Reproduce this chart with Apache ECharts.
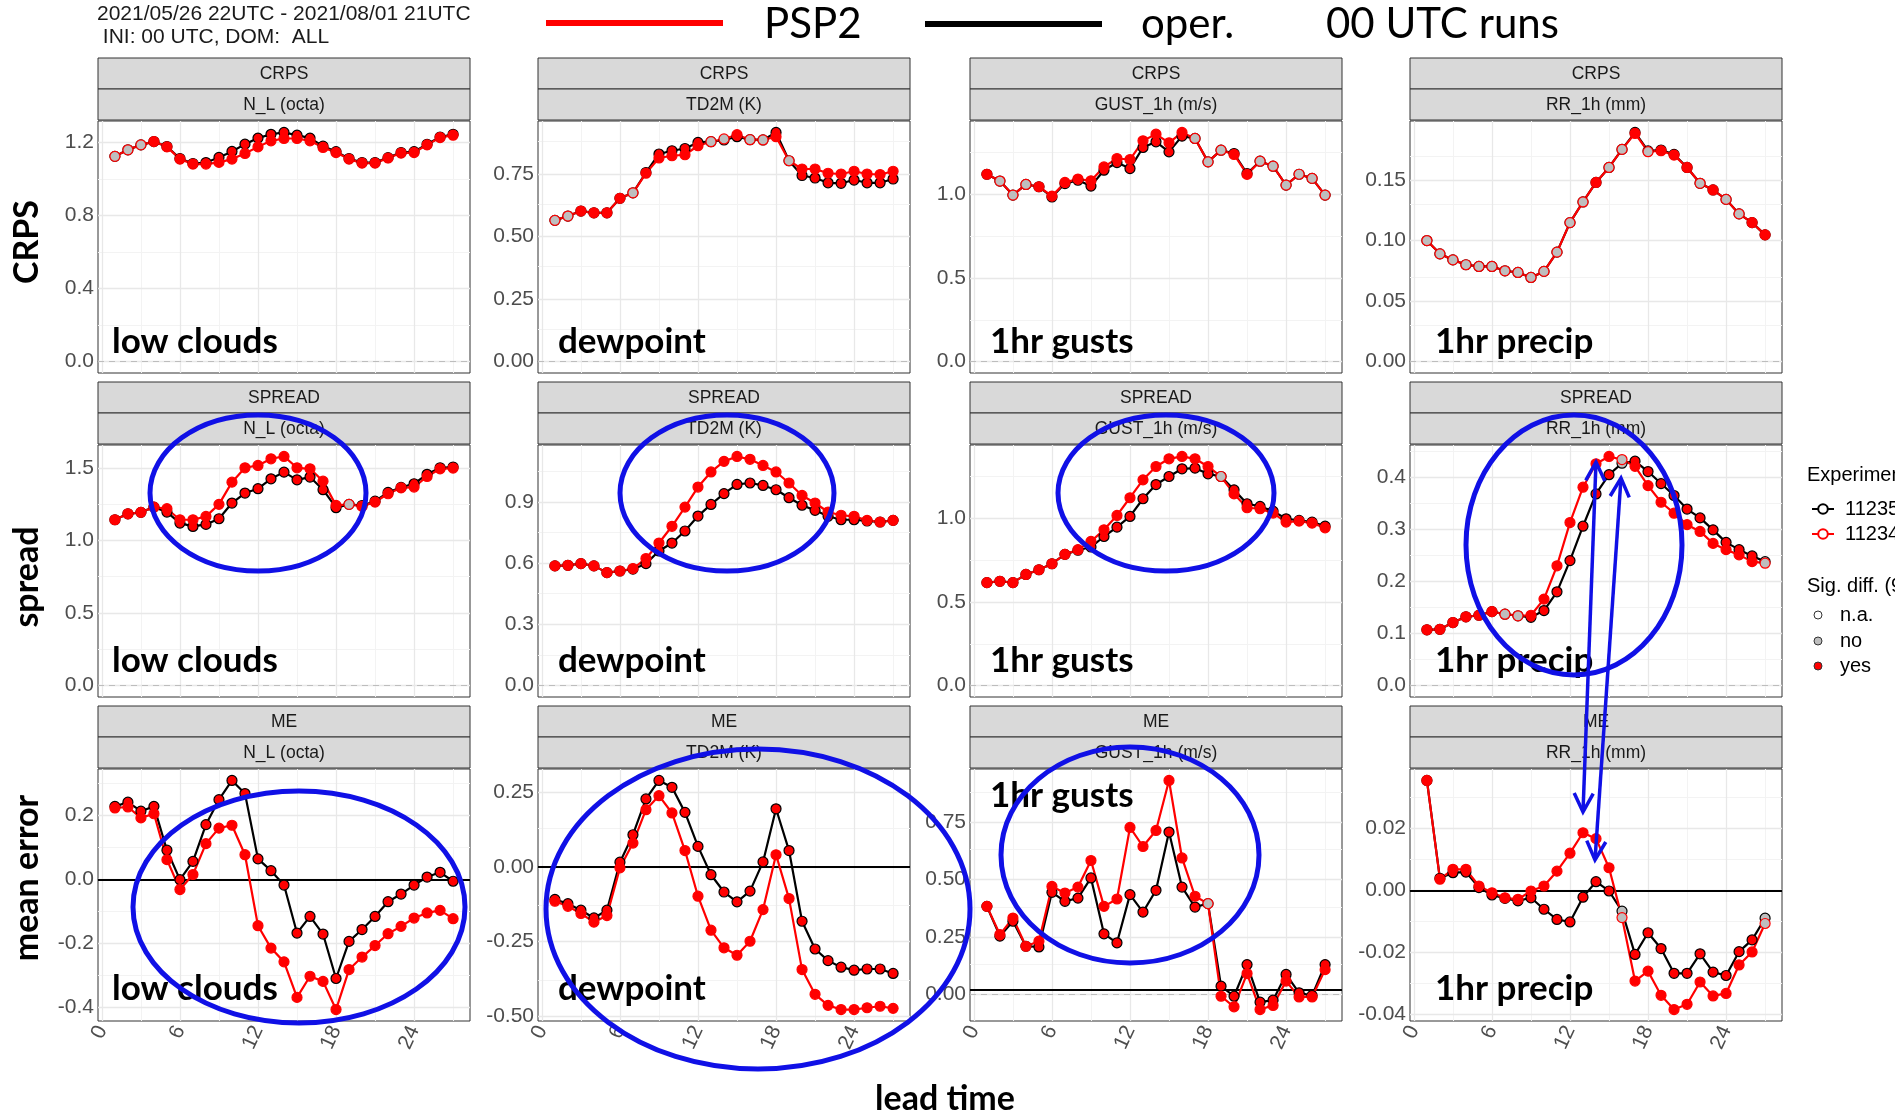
<!DOCTYPE html>
<html><head><meta charset="utf-8">
<script src="https://cdn.jsdelivr.net/npm/echarts@6/dist/echarts.min.js"></script>
<style>html,body{margin:0;padding:0;background:#fff}#c{width:1895px;height:1115px}</style>
</head><body><div id="c"></div>
<script>
// ---------------- DATA ----------------
const leadTimes = [1,2,3,4,5,6,7,8,9,10,11,12,13,14,15,16,17,18,19,20,21,22,23,24,25,26,27];
const xTicks = [0,6,12,18,24];
const xMinorTicks = [3,9,15,21,27];
const statNames = ['CRPS','SPREAD','ME'];
const paramNames = ['N_L (octa)','TD2M (K)','GUST_1h (m/s)','RR_1h (mm)'];
const paramLabels = ['low clouds','dewpoint','1hr gusts','1hr precip'];
const rowTitles = ['CRPS','spread','mean error'];
const experiments = ['11235','11234'];
const sigLevels = ['n.a.','no','yes'];

// CRPS
const crpsNL_11235 = [1.124,1.16,1.187,1.205,1.178,1.112,1.085,1.09,1.118,1.151,1.191,1.224,1.245,1.255,1.24,1.224,1.18,1.15,1.112,1.09,1.09,1.117,1.145,1.15,1.19,1.23,1.245];
const crpsNL_11234 = [1.124,1.16,1.187,1.205,1.176,1.109,1.082,1.082,1.091,1.109,1.14,1.176,1.209,1.222,1.222,1.209,1.173,1.145,1.109,1.087,1.087,1.115,1.142,1.145,1.187,1.227,1.24];
const crpsNL_sig = 'NNNYYYYYYYYYYYYYYYYYYYYYYYY';
const crpsTD_11235 = [0.564,0.581,0.601,0.594,0.594,0.652,0.674,0.755,0.829,0.842,0.851,0.875,0.878,0.885,0.898,0.886,0.885,0.915,0.802,0.743,0.733,0.714,0.712,0.725,0.714,0.714,0.729];
const crpsTD_11234 = [0.564,0.581,0.601,0.594,0.594,0.652,0.674,0.752,0.813,0.822,0.826,0.862,0.878,0.889,0.906,0.886,0.885,0.898,0.802,0.769,0.769,0.752,0.749,0.760,0.749,0.747,0.760];
const crpsTD_sig = 'NNYYYYNYYYYYNNYNNYNYYYYYYYY';
const crpsGU_11235 = [1.121,1.080,0.996,1.060,1.046,0.985,1.065,1.085,1.05,1.145,1.191,1.155,1.281,1.315,1.255,1.349,1.335,1.195,1.265,1.245,1.125,1.199,1.169,1.056,1.121,1.096,0.996];
const crpsGU_11234 = [1.121,1.080,0.996,1.060,1.046,0.990,1.072,1.092,1.082,1.165,1.215,1.209,1.321,1.361,1.309,1.371,1.335,1.195,1.265,1.239,1.12,1.199,1.169,1.056,1.121,1.096,0.996];
const crpsGU_sig = 'YNNNYYYYYYYYYYYYNNNYYNNNNNN';
const crpsRR_11235 = [0.100,0.089,0.084,0.080,0.0786,0.0786,0.075,0.0736,0.0695,0.0745,0.0904,0.1148,0.1319,0.148,0.1604,0.1753,0.1893,0.174,0.1748,0.1712,0.1604,0.1473,0.1418,0.134,0.122,0.1148,0.1047];
const crpsRR_11234 = [0.100,0.089,0.084,0.080,0.0786,0.0786,0.075,0.0736,0.0695,0.0745,0.0904,0.1148,0.1319,0.148,0.1604,0.1753,0.1885,0.1734,0.1742,0.1706,0.1604,0.1473,0.1418,0.134,0.122,0.1148,0.1047];
const crpsRR_sig = 'NNNNNNNNNNNNNYNNYNYYYNYNNYY';
// SPREAD
const sprNL_11235 = [1.142,1.183,1.193,1.229,1.195,1.119,1.096,1.11,1.149,1.257,1.326,1.356,1.424,1.47,1.417,1.436,1.349,1.225,1.248,1.24,1.27,1.33,1.365,1.39,1.455,1.5,1.505];
const sprNL_11234 = [1.142,1.183,1.193,1.229,1.218,1.142,1.142,1.165,1.248,1.401,1.50,1.516,1.562,1.578,1.50,1.493,1.408,1.241,1.248,1.234,1.264,1.321,1.362,1.367,1.44,1.493,1.498];
const sprNL_sig = 'YYYYYYYYYYYYYYYYYYNYYYYYYYY';
const sprTD_11235 = [0.586,0.589,0.597,0.586,0.553,0.561,0.570,0.597,0.659,0.698,0.757,0.83,0.887,0.94,0.985,0.992,0.98,0.959,0.92,0.883,0.858,0.829,0.812,0.812,0.806,0.801,0.809];
const sprTD_11234 = [0.586,0.589,0.597,0.586,0.553,0.561,0.573,0.622,0.698,0.78,0.874,0.972,1.046,1.098,1.122,1.108,1.078,1.046,0.992,0.931,0.894,0.85,0.834,0.829,0.809,0.801,0.809];
const sprTD_sig = 'YYYYYYYYYYYYYYYYYYYYYYYYYYY';
const sprGU_11235 = [0.616,0.624,0.616,0.665,0.693,0.729,0.785,0.810,0.829,0.892,0.948,1.012,1.118,1.203,1.251,1.297,1.301,1.267,1.251,1.171,1.088,1.072,1.044,0.998,0.988,0.978,0.954];
const sprGU_11234 = [0.616,0.624,0.616,0.665,0.693,0.729,0.785,0.813,0.863,0.932,1.018,1.124,1.231,1.311,1.357,1.371,1.357,1.311,1.251,1.147,1.064,1.058,1.032,0.978,0.984,0.972,0.944];
const sprGU_sig = 'YYYYYYYYYYYYYYYYYYNYYYYYYYY';
const sprRR_11235 = [0.107,0.108,0.121,0.132,0.135,0.142,0.137,0.134,0.131,0.144,0.180,0.24,0.306,0.368,0.405,0.427,0.431,0.411,0.388,0.365,0.339,0.322,0.299,0.275,0.261,0.249,0.238];
const sprRR_11234 = [0.107,0.108,0.121,0.132,0.135,0.142,0.137,0.134,0.135,0.166,0.23,0.313,0.381,0.426,0.44,0.434,0.421,0.384,0.352,0.331,0.309,0.296,0.273,0.261,0.251,0.238,0.235];
const sprRR_sig = 'YYYYYYNNYYYYYYYNYYYYYYYYYYN';
// ME
const meNL_11235 = [0.229,0.242,0.214,0.229,0.092,0.0,0.057,0.172,0.25,0.31,0.269,0.065,0.028,-0.017,-0.167,-0.115,-0.17,-0.309,-0.193,-0.156,-0.115,-0.069,-0.045,-0.017,0.008,0.023,-0.005];
const meNL_11234 = [0.224,0.227,0.193,0.206,0.0625,-0.031,0.016,0.1125,0.161,0.17,0.078,-0.144,-0.214,-0.257,-0.368,-0.302,-0.318,-0.406,-0.281,-0.242,-0.206,-0.169,-0.146,-0.12,-0.104,-0.096,-0.122];
const meNL_sig = 'YYYYYYYYYYYYYYYYYYYYYYYYYYY';
const meTD_11235 = [-0.109,-0.123,-0.145,-0.171,-0.145,0.016,0.108,0.228,0.29,0.267,0.183,0.069,-0.026,-0.084,-0.117,-0.081,0.017,0.195,0.055,-0.182,-0.275,-0.314,-0.336,-0.346,-0.342,-0.342,-0.357];
const meTD_11234 = [-0.115,-0.132,-0.156,-0.185,-0.163,-0.003,0.080,0.192,0.239,0.181,0.055,-0.098,-0.212,-0.271,-0.296,-0.249,-0.143,0.041,-0.106,-0.344,-0.427,-0.464,-0.478,-0.478,-0.472,-0.467,-0.474];
const meTD_sig = 'YYYYYYYYYYYYYYYYYYYYYYYYYYY';
const meGU_11235 = [0.383,0.253,0.318,0.209,0.206,0.444,0.405,0.419,0.507,0.263,0.224,0.434,0.358,0.453,0.707,0.467,0.380,0.395,0.035,-0.009,0.129,-0.035,-0.026,0.086,0.006,-0.006,0.129];
const meGU_11234 = [0.383,0.26,0.332,0.209,0.231,0.470,0.441,0.467,0.583,0.383,0.415,0.727,0.644,0.714,0.932,0.594,0.427,0.395,-0.009,-0.055,0.09,-0.067,-0.049,0.057,-0.012,-0.012,0.107];
const meGU_sig = 'YYYYYYYYYYYYYYYYYNYYYYYYYYY';
const meRR_11235 = [0.0355,0.0039,0.0057,0.0059,0.0009,-0.0015,-0.0026,-0.0034,-0.0024,-0.0061,-0.0094,-0.0102,-0.0022,0.0028,-0.0002,-0.0067,-0.0207,-0.0137,-0.0188,-0.0268,-0.0268,-0.0205,-0.0264,-0.0275,-0.0198,-0.016,-0.009];
const meRR_11234 = [0.0355,0.0036,0.0068,0.0068,0.0014,-0.0008,-0.0024,-0.0029,-0.0002,0.0014,0.0062,0.012,0.0186,0.0167,0.0073,-0.0088,-0.0293,-0.0261,-0.0339,-0.0385,-0.0368,-0.0296,-0.0341,-0.0333,-0.0241,-0.0199,-0.0107];
const meRR_sig = 'YYYYYYYYYYYYYYYNYYYYYYYYYYN';

// y tick labels per panel
const yTicksCRPS = [[0,0.4,0.8,1.2],[0,0.25,0.5,0.75],[0,0.5,1.0],[0,0.05,0.10,0.15]];
const yTicksSPREAD = [[0,0.5,1.0,1.5],[0,0.3,0.6,0.9],[0,0.5,1.0],[0,0.1,0.2,0.3,0.4]];
const yTicksME = [[-0.4,-0.2,0,0.2],[-0.5,-0.25,0,0.25],[0,0.25,0.5,0.75],[-0.04,-0.02,0,0.02]];
// hand-drawn reference line in the ME panels
const meRefLine = [0, 0, 0.016, -0.0005];

// ---------------- LAYOUT / STYLE ----------------
const colLeft = [98, 538, 970, 1410];
const colW = 372;
const rowTop = [58, 382, 706];
const stripH = 31;
const plotH = 252;
const C_OPER = '#000000', C_PSP = '#FF0000';
const FILL_YES = '#FF0000', FILL_NO = '#BEBEBE';
const BLUE = '#1010E6';

const panelData = [
  [[crpsNL_11235,crpsNL_11234,crpsNL_sig],[crpsTD_11235,crpsTD_11234,crpsTD_sig],[crpsGU_11235,crpsGU_11234,crpsGU_sig],[crpsRR_11235,crpsRR_11234,crpsRR_sig]],
  [[sprNL_11235,sprNL_11234,sprNL_sig],[sprTD_11235,sprTD_11234,sprTD_sig],[sprGU_11235,sprGU_11234,sprGU_sig],[sprRR_11235,sprRR_11234,sprRR_sig]],
  [[meNL_11235,meNL_11234,meNL_sig],[meTD_11235,meTD_11234,meTD_sig],[meGU_11235,meGU_11234,meGU_sig],[meRR_11235,meRR_11234,meRR_sig]]
];
const yTicksAll = [yTicksCRPS, yTicksSPREAD, yTicksME];

function decimals(ticks){
  let d = 0;
  ticks.forEach(t => { const s = String(t); const i = s.indexOf('.'); if (i >= 0) d = Math.max(d, s.length - i - 1); });
  return d;
}

const grids = [], xAxes = [], yAxes = [], series = [], graphics = [];
let idx = 0;
for (let r = 0; r < 3; r++) {
  for (let c = 0; c < 4; c++) {
    const [a, b, sigStr] = panelData[r][c];
    const sig = sigStr.split('');
    const ticks = yTicksAll[r][c];
    let lo = Math.min(...a, ...b), hi = Math.max(...a, ...b);
    lo = Math.min(lo, 0);
    const ext = (hi - lo) * 0.05;
    const ymin = lo - ext, ymax = hi + ext;
    const dec = decimals(ticks);
    const step = ticks[1] - ticks[0];
    const minors = [];
    for (let k = -1; k < ticks.length; k++) {
      const v = (k < 0 ? ticks[0] : ticks[k]) + (k < 0 ? -step / 2 : step / 2);
      if (v > ymin && v < ymax) minors.push(+v.toFixed(6));
    }
    grids.push({left: colLeft[c], top: rowTop[r] + 2 * stripH + 1, width: colW, height: plotH,
      show: true, borderColor: '#333333', borderWidth: 1, backgroundColor: '#ffffff'});
    const bottom = (r === 2);
    xAxes.push({gridIndex: idx, type: 'value', min: -0.3, max: 28.3,
      axisLine: {show: false}, splitLine: {show: false},
      axisTick: {show: bottom, customValues: xTicks, length: 5, lineStyle: {color: '#333333'}},
      axisLabel: {show: bottom, customValues: xTicks, rotate: 65, fontSize: 21, color: '#4D4D4D',
        fontFamily: 'Liberation Sans', margin: 6}});
    yAxes.push({gridIndex: idx, type: 'value', min: ymin, max: ymax,
      axisLine: {show: false}, splitLine: {show: false},
      axisTick: {show: true, customValues: ticks, length: 4, lineStyle: {color: '#333333'}},
      axisLabel: {customValues: ticks, fontSize: 21, color: '#4D4D4D', fontFamily: 'Liberation Sans', margin: 4,
        formatter: v => Number(v).toFixed(dec)}});
    // grid lines & reference lines
    const ml = [];
    minors.forEach(v => ml.push({yAxis: v, lineStyle: {color: '#F3F3F3', width: 1, type: 'solid'}}));
    xMinorTicks.forEach(v => ml.push({xAxis: v, lineStyle: {color: '#F3F3F3', width: 1, type: 'solid'}}));
    ticks.forEach(v => ml.push({yAxis: v, lineStyle: {color: '#E8E8E8', width: 1.3, type: 'solid'}}));
    xTicks.forEach(v => ml.push({xAxis: v, lineStyle: {color: '#E8E8E8', width: 1.3, type: 'solid'}}));
    ml.push({yAxis: 0, lineStyle: {color: '#BDBDBD', width: 1.2, type: [6, 5]}});
    series.push({type: 'line', xAxisIndex: idx, yAxisIndex: idx, data: [], silent: true, z: 1,
      markLine: {silent: true, z: 1, symbol: ['none', 'none'], label: {show: false}, animation: false, data: ml}});
    if (r === 2) {
      series.push({type: 'line', xAxisIndex: idx, yAxisIndex: idx, data: [], silent: true, z: 2,
        markLine: {silent: true, z: 2, symbol: ['none', 'none'], label: {show: false}, animation: false,
          data: [{yAxis: meRefLine[c], lineStyle: {color: '#000', width: 2, type: 'solid'}}]}});
    }
    [[a, experiments[0], C_OPER], [b, experiments[1], C_PSP]].forEach(([arr, name, col]) => {
      series.push({type: 'line', name: name, xAxisIndex: idx, yAxisIndex: idx, z: 3,
        symbol: 'circle', symbolSize: 10, showSymbol: true, animation: false,
        lineStyle: {color: col, width: 2.2},
        itemStyle: {color: '#ffffff', borderColor: col, borderWidth: 1.2},
        emphasis: {disabled: true},
        data: leadTimes.map((l, k) => ({value: [l, arr[k]],
          itemStyle: {color: sig[k] === 'N' ? FILL_NO : FILL_YES, borderColor: col, borderWidth: 1.2}}))});
    });
    // strips
    const x0 = colLeft[c], y0 = rowTop[r];
    [statNames[r], paramNames[c]].forEach((t, k) => {
      graphics.push({type: 'rect', shape: {x: x0, y: y0 + k * stripH, width: colW, height: stripH},
        style: {fill: '#D9D9D9', stroke: '#333333', lineWidth: 1}, z: 5});
      graphics.push({type: 'text', x: x0 + colW / 2, y: y0 + k * stripH + stripH / 2 + 1,
        style: {text: t, fill: '#1A1A1A', font: '17.5px "Liberation Sans"', textAlign: 'center', textVerticalAlign: 'middle'}, z: 6});
    });
    idx++;
  }
}

// bold in-panel labels
const labelBaseline = [[353,353,353,353],[672,672,672,672],[1000,1000,807,1000]];
const labelLeft = [112, 558, 990, 1435];
for (let r = 0; r < 3; r++) for (let c = 0; c < 4; c++) {
  graphics.push({type: 'text', x: labelLeft[c], y: labelBaseline[r][c] - 11,
    style: {text: paramLabels[c], fill: '#000', font: 'bold 35px Lato', textAlign: 'left', textVerticalAlign: 'middle'}, z: 50});
}
// row titles
const rowCenters = [242, 577, 878];
rowTitles.forEach((t, r) => graphics.push({type: 'text', x: 27, y: rowCenters[r], rotation: Math.PI / 2,
  style: {text: t, fill: '#000', font: 'bold 34px Lato', textAlign: 'center', textVerticalAlign: 'middle'}, z: 50}));
graphics.push({type: 'text', x: 945, y: 1099, style: {text: 'lead time', fill: '#000', font: 'bold 34px Lato',
  textAlign: 'center', textVerticalAlign: 'middle'}, z: 50});
// title
graphics.push({type: 'text', x: 97, y: 14, style: {text: '2021/05/26 22UTC - 2021/08/01 21UTC', fill: '#1A1A1A',
  font: '21px "Liberation Sans"', textAlign: 'left', textVerticalAlign: 'middle'}});
graphics.push({type: 'text', x: 97, y: 37, style: {text: ' INI: 00 UTC, DOM:  ALL', fill: '#1A1A1A',
  font: '21px "Liberation Sans"', textAlign: 'left', textVerticalAlign: 'middle'}});
// top legend
graphics.push({type: 'line', shape: {x1: 546, y1: 23, x2: 723, y2: 23}, style: {stroke: '#FF0000', lineWidth: 6}});
graphics.push({type: 'text', x: 764, y: 24, style: {text: 'PSP2', fill: '#000', font: '42px Lato', textVerticalAlign: 'middle'}});
graphics.push({type: 'line', shape: {x1: 925, y1: 24, x2: 1102, y2: 24}, style: {stroke: '#000', lineWidth: 6}});
graphics.push({type: 'text', x: 1141, y: 24, style: {text: 'oper.', fill: '#000', font: '42px Lato', textVerticalAlign: 'middle'}});
graphics.push({type: 'text', x: 1326, y: 24, style: {text: '00 UTC runs', fill: '#000', font: '42px Lato', textVerticalAlign: 'middle'}});
// right legend
graphics.push({type: 'text', x: 1807, y: 475, style: {text: 'Experiment', fill: '#000', font: '20px "Liberation Sans"', textVerticalAlign: 'middle'}});
graphics.push({type: 'text', x: 1807, y: 586, style: {text: 'Sig. diff. (95%)', fill: '#000', font: '20px "Liberation Sans"', textVerticalAlign: 'middle'}});
const sigFill = ['#FFFFFF', FILL_NO, FILL_YES];
const sigY = [615, 641, 666];
sigLevels.forEach((s, k) => {
  graphics.push({type: 'circle', shape: {cx: 1818, cy: sigY[k], r: 4}, style: {fill: sigFill[k], stroke: '#333', lineWidth: 1}});
  graphics.push({type: 'text', x: 1840, y: sigY[k], style: {text: s, fill: '#000', font: '20px "Liberation Sans"', textVerticalAlign: 'middle'}});
});
// blue ellipses
const ellipses = [[258,493,108,78],[727,493,107,78],[1166,493,108,78],[1574,545,108,130],[299,907,166,116],[758,909,212,160],[1130,855,129,108]];
ellipses.forEach(e => graphics.push({type: 'ellipse', shape: {cx: e[0], cy: e[1], rx: e[2], ry: e[3]},
  style: {fill: 'none', stroke: BLUE, lineWidth: 5}, z: 60}));
// blue double arrows
function head(tip, from) {
  const dx = from[0] - tip[0], dy = from[1] - tip[1], L = Math.hypot(dx, dy);
  const ux = dx / L, uy = dy / L, len = 21, ang = 27 * Math.PI / 180;
  const p = s => [tip[0] + len * (ux * Math.cos(s * ang) - uy * Math.sin(s * ang)), tip[1] + len * (ux * Math.sin(s * ang) + uy * Math.cos(s * ang))];
  return [p(1), tip, p(-1)];
}
[[[1596, 462], [1583, 812]], [[1621, 478], [1595, 860]]].forEach(([A, B]) => {
  graphics.push({type: 'line', shape: {x1: A[0], y1: A[1], x2: B[0], y2: B[1]}, style: {stroke: BLUE, lineWidth: 3.5}, z: 60});
  graphics.push({type: 'polyline', shape: {points: head(A, B)}, style: {stroke: BLUE, lineWidth: 3.5, fill: 'none'}, z: 60});
  graphics.push({type: 'polyline', shape: {points: head(B, A)}, style: {stroke: BLUE, lineWidth: 3.5, fill: 'none'}, z: 60});
});

const chart = echarts.init(document.getElementById('c'), null, {renderer: 'canvas'});
chart.setOption({
  animation: false,
  backgroundColor: '#ffffff',
  grid: grids, xAxis: xAxes, yAxis: yAxes, series: series,
  legend: {data: experiments, orient: 'vertical', left: 1806, top: 494, itemWidth: 22, itemHeight: 12, itemGap: 5,
    selectedMode: false, textStyle: {fontSize: 20, color: '#000', fontFamily: 'Liberation Sans', padding: [0, 0, 0, 6]}},
  graphic: {elements: graphics}
});
</script>
</body></html>
